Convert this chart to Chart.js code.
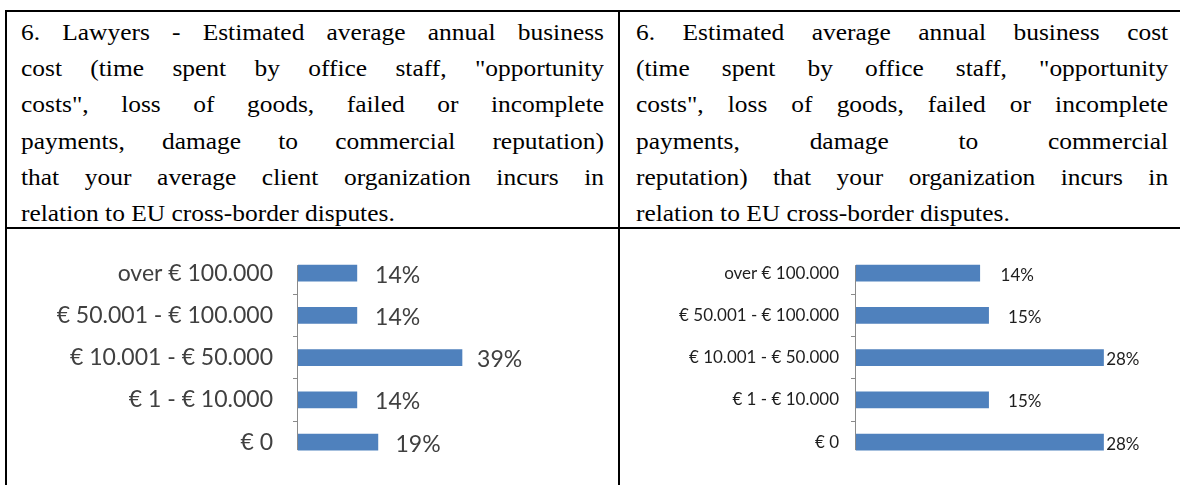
<!DOCTYPE html>
<html>
<head>
<meta charset="utf-8">
<script src="https://cdn.jsdelivr.net/npm/chart.js@4.4.1/dist/chart.umd.min.js"></script>
<style>
  html, body { margin:0; padding:0; background:#fff; }
  body { width:1180px; height:485px; overflow:hidden; position:relative; }
  .rule { position:absolute; background:#000; z-index:2; }
  .txt { position:absolute; top:14px; font-family:'Liberation Serif', serif; font-size:24px; color:#000;
         transform:scaleX(1.06); transform-origin:0 0; }
  .txt div { line-height:36.2px; height:36.2px; text-align:justify; text-align-last:justify; white-space:normal; }
  .txt div.last { text-align:left; text-align-last:left; }
  canvas { position:absolute; }
</style>
</head>
<body>
<div class="rule" style="left:5px;top:10px;width:1180px;height:2px"></div>
<div class="rule" style="left:5px;top:10px;width:2px;height:480px"></div>
<div class="rule" style="left:618px;top:10px;width:2px;height:480px"></div>
<div class="rule" style="left:5px;top:227px;width:1180px;height:2px"></div>

<div class="txt" id="leftText" style="left:21px;width:550px"></div>
<div class="txt" id="rightText" style="left:636px;width:502px"></div>

<canvas id="leftChart" width="615" height="250" style="left:0;top:232px"></canvas>
<canvas id="rightChart" width="560" height="250" style="left:620px;top:232px"></canvas>

<script>
// ---- Data ----
const categories = ["over € 100.000", "€ 50.001 - € 100.000", "€ 10.001 - € 50.000", "€ 1 - € 10.000", "€ 0"];
const lawyersValues = [14, 14, 39, 14, 19];
const organizationValues = [14, 15, 28, 15, 28];

const leftTitleLines = [
  "6.  Lawyers - Estimated average annual business",
  "cost (time spent by office staff, \"opportunity",
  "costs\", loss of goods, failed or incomplete",
  "payments, damage to commercial reputation)",
  "that your average client organization incurs in",
  "relation to EU cross-border disputes."
];
const rightTitleLines = [
  "6.  Estimated average annual business cost",
  "(time spent by office staff, \"opportunity",
  "costs\", loss of goods, failed or incomplete",
  "payments, damage to commercial",
  "reputation) that your organization incurs in",
  "relation to EU cross-border disputes."
];

function fillText(id, lines) {
  const el = document.getElementById(id);
  lines.forEach((t, i) => {
    const d = document.createElement('div');
    d.textContent = t;
    if (i === lines.length - 1) d.className = 'last';
    el.appendChild(d);
  });
}
fillText('leftText', leftTitleLines);
fillText('rightText', rightTitleLines);

const BAR_COLOR = '#4F81BD';
const AXIS_COLOR = '#8a8a8a';

const barDecor = {
  id: 'barDecor',
  afterDatasetsDraw(chart, args, opts) {
    const ctx = chart.ctx;
    const meta = chart.getDatasetMeta(0);
    const xs = chart.scales.x;
    const data = chart.data.datasets[0].data;
    ctx.save();
    const first = meta.data[0], last = meta.data[meta.data.length - 1];
    const ax = Math.round(xs.getPixelForValue(0)) - 0.5;
    ctx.strokeStyle = AXIS_COLOR;
    ctx.lineWidth = 1;
    ctx.beginPath();
    ctx.moveTo(ax, first.y - first.height / 2);
    ctx.lineTo(ax, last.y + last.height / 2);
    ctx.stroke();
    ctx.font = opts.font;
    ctx.fillStyle = opts.color;
    ctx.textAlign = 'left';
    ctx.textBaseline = 'middle';
    meta.data.forEach((bar, i) => {
      const v = data[i];
      const x = xs.getPixelForValue(v * opts.anchorScale) + opts.gap;
      ctx.fillText(v + '%', x, bar.y + opts.dy);
    });
    ctx.restore();
  }
};

function makeChart(id, values, cfg) {
  return new Chart(document.getElementById(id), {
    type: 'bar',
    data: {
      labels: categories,
      datasets: [{ data: values, backgroundColor: BAR_COLOR, borderWidth: 0, barThickness: 16 }]
    },
    options: {
      indexAxis: 'y',
      responsive: false,
      animation: false,
      devicePixelRatio: 1,
      layout: { padding: { top: 20, bottom: 18.75, left: 0, right: cfg.padRight } },
      plugins: {
        legend: { display: false },
        tooltip: { enabled: false },
        barDecor: { font: cfg.valueFont, color: cfg.textColor, anchorScale: cfg.anchorScale, gap: cfg.gap, dy: 2 }
      },
      scales: {
        x: { display: false, min: 0, max: cfg.xMax },
        y: {
          afterFit: (s) => { s.width = cfg.axisWidth; s.paddingTop = 0; s.paddingBottom = 0; },
          border: { display: false },
          grid: {
            offset: true,
            drawOnChartArea: false,
            drawTicks: true,
            tickLength: 5,
            color: (c) => (c.type === 'tick' && c.index > 0) ? AXIS_COLOR : 'rgba(0,0,0,0)'
          },
          ticks: {
            autoSkip: false,
            padding: cfg.labelPad,
            color: cfg.textColor,
            font: { family: 'Lato', size: cfg.labelSize }
          }
        }
      }
    },
    plugins: [barDecor]
  });
}

makeChart('leftChart', lawyersValues, {
  axisWidth: 298, padRight: 106.75, xMax: 50, labelPad: 20, labelSize: 23,
  textColor: '#404040', valueFont: '23px Lato', anchorScale: 0.97, gap: 20
});
makeChart('rightChart', organizationValues, {
  axisWidth: 236, padRight: 58.8, xMax: 30, labelPad: 12, labelSize: 17,
  textColor: '#1e1e1e', valueFont: '17px Lato', anchorScale: 0.853, gap: 39
});
</script>
</body>
</html>
